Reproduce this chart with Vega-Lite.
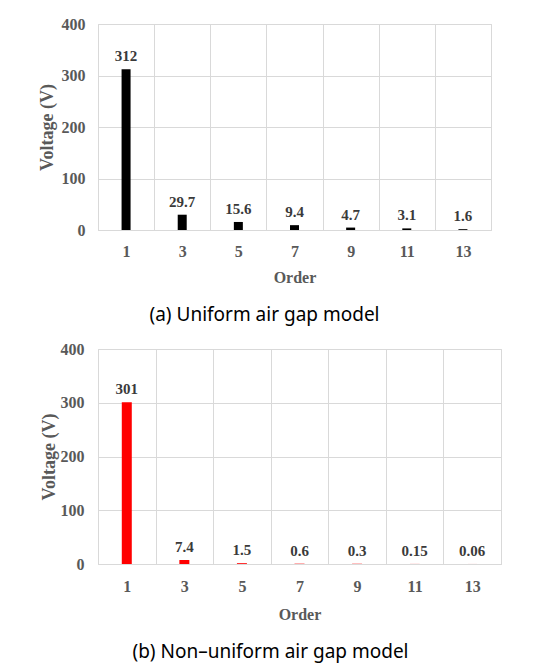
{
  "$schema": "https://vega.github.io/schema/vega-lite/v6.json",
  "background": "white",
  "padding": {"left": 37, "top": 15, "right": 5, "bottom": 5},
  "spacing": 14,
  "align": "none",
  "datasets": {
    "uniform": [
      {"order": 1, "voltage": 312},
      {"order": 3, "voltage": 29.7},
      {"order": 5, "voltage": 15.6},
      {"order": 7, "voltage": 9.4},
      {"order": 9, "voltage": 4.7},
      {"order": 11, "voltage": 3.1},
      {"order": 13, "voltage": 1.6}
    ],
    "nonuniform": [
      {"order": 1, "voltage": 301},
      {"order": 3, "voltage": 7.4},
      {"order": 5, "voltage": 1.5},
      {"order": 7, "voltage": 0.6},
      {"order": 9, "voltage": 0.3},
      {"order": 11, "voltage": 0.15},
      {"order": 13, "voltage": 0.06}
    ]
  },
  "vconcat": [
    {
      "width": 393,
      "height": 206,
      "data": {"name": "uniform"},
      "title": {"text": "(a) Uniform air gap model", "orient": "bottom", "frame": "bounds", "anchor": "middle", "offset": 21},
      "encoding": {
        "x": {"field": "order", "type": "ordinal", "title": "Order", "scale": {"paddingInner": 0, "paddingOuter": 0}, "axis": {"labelAngle": 0, "tickBand": "extent", "labelPadding": 13, "titlePadding": 10}},
        "y": {"field": "voltage", "type": "quantitative", "title": "Voltage (V)", "scale": {"domain": [0, 400]}, "axis": {"values": [0, 100, 200, 300, 400], "labelPadding": 13, "titlePadding": 5}}
      },
      "layer": [
        {"mark": {"type": "bar", "size": 9, "color": "#000000"}},
        {"mark": {"type": "text", "baseline": "alphabetic", "dy": -8, "font": "Liberation Serif", "fontWeight": "bold", "fontSize": 15, "color": "#3a3a3a"},
         "encoding": {"text": {"field": "voltage", "type": "nominal"}}}
      ]
    },
    {
      "width": 403,
      "height": 215,
      "data": {"name": "nonuniform"},
      "title": {"text": "(b) Non\u2013uniform air gap model", "orient": "bottom", "frame": "bounds", "anchor": "middle", "offset": 21},
      "encoding": {
        "x": {"field": "order", "type": "ordinal", "title": "Order", "scale": {"paddingInner": 0, "paddingOuter": 0}, "axis": {"labelAngle": 0, "tickBand": "extent", "labelPadding": 14, "titlePadding": 12}},
        "y": {"field": "voltage", "type": "quantitative", "title": "Voltage (V)", "scale": {"domain": [0, 400]}, "axis": {"values": [0, 100, 200, 300, 400], "labelPadding": 14, "titlePadding": 2}}
      },
      "layer": [
        {"mark": {"type": "bar", "size": 10, "color": "#ff0000"}},
        {"mark": {"type": "text", "baseline": "alphabetic", "dy": -8, "font": "Liberation Serif", "fontWeight": "bold", "fontSize": 15, "color": "#3a3a3a"},
         "encoding": {"text": {"field": "voltage", "type": "nominal"}}}
      ]
    }
  ],
  "config": {
    "view": {"stroke": "#d9d9d9", "strokeWidth": 1},
    "axis": {
      "labelFont": "Liberation Serif", "labelFontWeight": "bold", "labelFontSize": 16, "labelColor": "#595959",
      "titleFont": "Liberation Serif", "titleFontWeight": "bold", "titleFontSize": 16, "titleColor": "#595959",
      "gridColor": "#d9d9d9", "grid": true, "ticks": false, "domain": false
    },
    "axisX": {"domain": true, "domainColor": "#d9d9d9"},
    "axisY": {"titleFontSize": 18},
    "title": {"font": "Noto Sans", "fontSize": 19, "fontWeight": "normal", "color": "#000000"}
  }
}
